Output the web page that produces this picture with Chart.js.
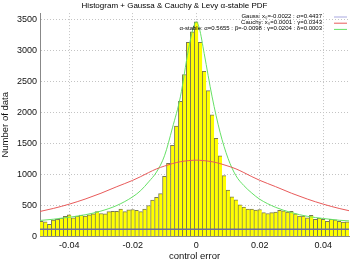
<!DOCTYPE html>
<html>
<head>
<meta charset="utf-8">
<script src="https://cdn.jsdelivr.net/npm/chart.js@4/dist/chart.umd.min.js"></script>
<style>
  html, body { margin: 0; padding: 0; background: #fff; }
  #wrap { width: 350px; height: 262px; }
</style>
</head>
<body>
<div id="wrap"><canvas id="histChart"></canvas></div>
<script>
// histogram of control error, bin width 0.00125, centred from -0.04875
const binStart = -0.04875;
const binWidth = 0.00125;
const counts = [
    245, 235, 195, 265, 275, 295, 325, 350, 300, 330,
    345, 330, 350, 365, 400, 370, 365, 400, 405, 405,
    440, 400, 430, 435, 420, 400, 440, 500, 585, 630,
    690, 970, 1180, 1470, 1780, 2180, 2610, 3130, 3300, 3460,
    3130, 2660, 2350, 1960, 1580, 1300, 980, 750, 640, 590,
    510, 475, 440, 440, 425, 435, 385, 370, 385, 395,
    420, 415, 395, 405, 365, 330, 330, 300, 340, 275,
    295, 275, 245, 275, 270, 245, 232, 235, 240
];

// fitted PDFs
const curveX = [-0.05, -0.045, -0.04, -0.035, -0.03, -0.025, -0.02, -0.0175, -0.015, -0.0125,
    -0.01, -0.0075, -0.005, -0.0025, -0.001, 0, 0.001, 0.0025, 0.005, 0.0075,
    0.01, 0.0125, 0.015, 0.0175, 0.02, 0.025, 0.03, 0.035, 0.04, 0.045, 0.05];
const cauchyY = [394, 452, 521, 603, 697, 803, 905, 965, 1030, 1090,
    1135, 1175, 1205, 1222, 1228, 1230, 1228, 1222, 1205, 1175,
    1135, 1090, 1030, 965, 905, 803, 697, 603, 521, 452, 394];
const stableY = [255, 278, 310, 350, 410, 500, 640, 740, 880, 1040,
    1300, 1750, 2250, 3000, 3350, 3460, 3350, 2950, 2250, 1680,
    1260, 980, 820, 700, 600, 470, 385, 325, 290, 262, 245];
const gaussX = [-0.05, 0.05];
const gaussY = [115, 115];

const xTicks = [-0.04, -0.02, 0, 0.02, 0.04];
const xTickLabels = ['-0.04', '-0.02', '0', '0.02', '0.04'];
const yTicks = [0, 500, 1000, 1500, 2000, 2500, 3000, 3500];

const seriesLabels = [
    'Gauss: x\u2080=-0.0022 : \u03c3=0.4437',
    'Cauchy: x\u2080=0.0001 : \u03b3=0.0343',
    '\u03b1-stable: \u03b1=0.5655 : \u03b2=-0.0098 : \u03b3=0.0204 : \u03b4=0.0003'
];

const FONT = 'Liberation Sans, Arial, sans-serif';

function pts(xs, ys) {
    return xs.map((x, i) => ({ x: x, y: ys[i] }));
}

// gnuplot-like key drawn inside the top right corner
const keyPlugin = {
    id: 'insideKey',
    afterDatasetsDraw(chart) {
        const ctx = chart.ctx;
        const lines = chart.data.datasets.filter(d => d.type === 'line');
        ctx.save();
        ctx.font = '6px ' + FONT;
        ctx.textAlign = 'right';
        ctx.textBaseline = 'middle';
        lines.forEach((d, i) => {
            const y = 16 + i * 6.2;
            ctx.fillStyle = '#000';
            ctx.fillText(d.label, 322, y);
            ctx.strokeStyle = d.keyColor || d.borderColor;
            ctx.lineWidth = 1;
            ctx.beginPath();
            ctx.moveTo(334, y + 1);
            ctx.lineTo(347, y + 1);
            ctx.stroke();
        });
        ctx.restore();
    }
};

const ctx = document.getElementById('histChart').getContext('2d');
const histChart = new Chart(ctx, {
    type: 'bar',
    data: {
        datasets: [{
            type: 'line',
            label: seriesLabels[0],
            data: pts(gaussX, gaussY),
            borderColor: '#6c6c9c',
            keyColor: '#a8a8e0',
            borderWidth: 1.5,
            pointRadius: 0,
            order: 1
        }, {
            type: 'line',
            label: seriesLabels[1],
            data: pts(curveX, cauchyY),
            borderColor: '#e85a5a',
            borderWidth: 1,
            pointRadius: 0,
            cubicInterpolationMode: 'monotone',
            order: 1
        }, {
            type: 'line',
            label: seriesLabels[2],
            data: pts(curveX, stableY),
            borderColor: '#66e066',
            borderWidth: 1,
            pointRadius: 0,
            cubicInterpolationMode: 'monotone',
            order: 1
        }, {
            label: 'histogram',
            data: counts.map((c, i) => ({ x: binStart + i * binWidth, y: c })),
            backgroundColor: '#ffff00',
            borderColor: '#7a7a50',
            borderWidth: { top: 1, left: 1, right: 0, bottom: 0 },
            barPercentage: 1,
            categoryPercentage: 1,
            order: 5
        }]
    },
    options: {
        responsive: true,
        maintainAspectRatio: false,
        animation: false,
        layout: { padding: { right: 1 } },
        plugins: {
            legend: { display: false },
            tooltip: { enabled: false },
            title: {
                display: true,
                text: 'Histogram + Gaussa & Cauchy & Levy \u03b1-stable PDF',
                color: '#000',
                font: { family: FONT, size: 8, weight: 'normal' },
                padding: { top: 1, bottom: 2.5 }
            }
        },
        scales: {
            x: {
                type: 'linear',
                offset: false,
                min: -0.0492,
                max: 0.0481,
                afterBuildTicks: s => { s.ticks = xTicks.map(v => ({ value: v })); },
                afterFit: s => { s.height = 25.5; },
                grid: { offset: false, color: '#c4c4c4', drawTicks: false },
                border: { display: true, color: '#888', dash: [1, 2] },
                ticks: {
                    color: '#111',
                    padding: 4,
                    maxRotation: 0,
                    font: { family: FONT, size: 9 },
                    callback: v => xTickLabels[xTicks.indexOf(v)]
                },
                title: {
                    display: true,
                    text: 'control error',
                    color: '#111',
                    font: { family: FONT, size: 9.5 },
                    padding: { top: 0, bottom: 0 }
                }
            },
            y: {
                min: 0,
                max: 3600,
                afterBuildTicks: s => { s.ticks = yTicks.map(v => ({ value: v })); },
                afterFit: s => { s.width = 40; },
                grid: { color: '#c4c4c4', drawTicks: false },
                border: { display: true, color: '#888', dash: [1, 2] },
                ticks: {
                    color: '#111',
                    padding: 3,
                    font: { family: FONT, size: 9 },
                    callback: v => String(v)
                },
                title: {
                    display: true,
                    text: 'Number of data',
                    color: '#111',
                    font: { family: FONT, size: 9.5 },
                    padding: { top: 0, bottom: 0 }
                }
            }
        }
    },
    plugins: [keyPlugin]
});
</script>
</body>
</html>
